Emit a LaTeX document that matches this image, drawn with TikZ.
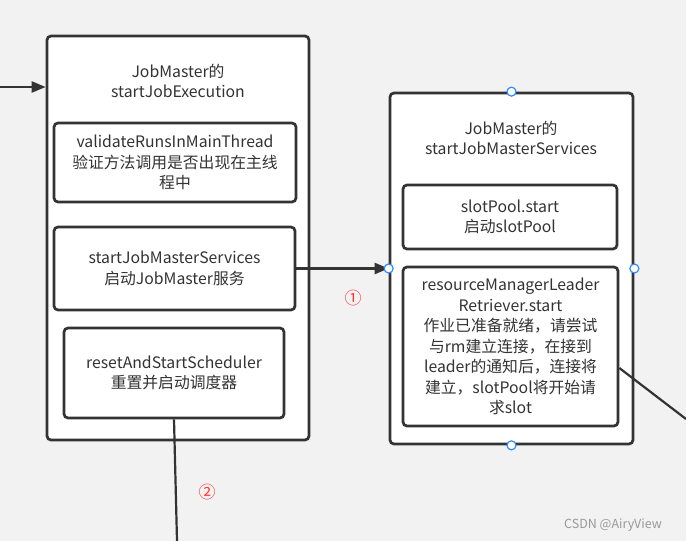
\documentclass[tikz,border=0pt]{standalone}
\usepackage{fontspec}
\setmainfont{Noto Sans CJK SC}
\usetikzlibrary{arrows.meta}
\definecolor{bg}{HTML}{F2F2F2}
\definecolor{ink}{HTML}{333333}
\definecolor{txt}{HTML}{333333}
\definecolor{handle}{HTML}{2F8BFF}
\definecolor{mark}{HTML}{FF3333}
\tikzset{
  box/.style={draw=ink, fill=white, line width=2.7pt, rounded corners=4pt, inner sep=0pt},
  lbl/.style={text=txt, align=center, font=\fontsize{15.8}{20.5}\selectfont, inner sep=0pt},
  conn/.style={draw=ink, line width=2.2pt},
  arr/.style={conn, -{Triangle[length=14pt,width=11pt]}},
  handledot/.style={circle, draw=handle, fill=white, line width=1.2pt, minimum size=9pt, inner sep=0pt},
}
\begin{document}
\begin{tikzpicture}[x=1pt,y=-1pt]
\fill[bg] (0,0) rectangle (686,541);
\useasboundingbox (0,0) rectangle (686,541);

% left group
\node[box, minimum width=262pt, minimum height=404pt] (outerL) at (178,238) {};
\node[lbl] (titleL) at (178,81) {JobMaster的\\startJobExecution};
\node[box, minimum width=242pt, minimum height=79pt] (inA) at (175,162.5) {};
\node[lbl] (inAt) at (inA) {validateRunsInMainThread\\验证方法调用是否出现在主线\\程中};
\node[box, minimum width=241pt, minimum height=83pt] (inB) at (174.5,268.5) {};
\node[lbl] (inBt) at (inB) {startJobMasterServices\\启动JobMaster服务};
\node[box, minimum width=220pt, minimum height=90pt] (inC) at (174,373) {};
\node[lbl] (inCt) at (inC) {resetAndStartScheduler\\重置并启动调度器};

% right group
\node[box, minimum width=243pt, minimum height=351pt] (outerR) at (511.5,268.5) {};
\node[lbl] (titleR) at (511,138) {JobMaster的\\startJobMasterServices};
\node[box, minimum width=214pt, minimum height=64pt] (slot) at (510,217) {};
\node[lbl] (slott) at (slot) {slotPool.start\\启动slotPool};
\node[box, minimum width=215pt, minimum height=159pt] (rm) at (510.5,346.5) {};
\node[lbl] (rmt) at (rm) {resourceManagerLeader\\Retriever.start\\作业已准备就绪，请尝试\\与rm建立连接，在接到\\leader的通知后，连接将\\建立，slotPool将开始请\\求slot};

% connectors
\coordinate (inL) at (0,87);
\draw[arr] (inL) -- (inL -| outerL.west);
\draw[arr] (inB.east) -- (outerR.west);
\coordinate (downEnd) at (177,541);
\draw[conn] (inC.south) -- (downEnd);
\coordinate (rightEnd) at (686,419);
\draw[conn] ([yshift=-21.5pt]rm.east) -- (rightEnd);

% handles
\node[handledot] (h1) at (outerR.north) {};
\node[handledot] (h2) at (outerR.west) {};
\node[handledot] (h3) at (outerR.east) {};
\node[handledot] (h4) at (outerR.south) {};

% markers
\node[text=mark, font=\fontsize{17}{17}\selectfont, inner sep=0pt] (m1) at (353,298) {①};
\node[text=mark, font=\fontsize{17}{17}\selectfont, inner sep=0pt] (m2) at (207,492) {②};

% watermark
\node[text=gray!80, font=\fontsize{12.5}{12.5}\selectfont, inner sep=0pt] (wm) at (613,525) {CSDN @AiryView};
\end{tikzpicture}
\end{document}
